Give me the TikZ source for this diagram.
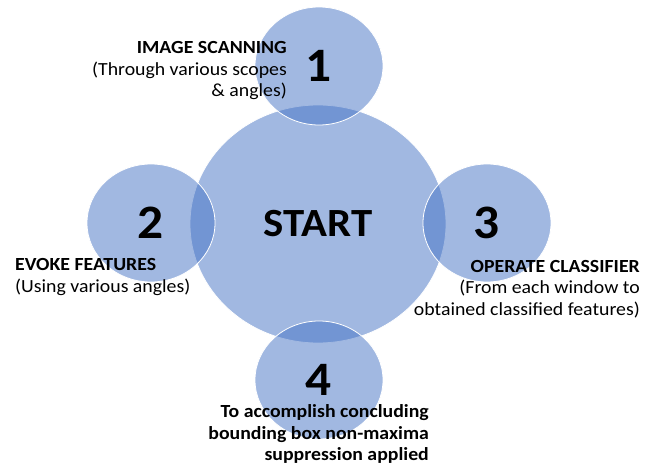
\documentclass[tikz,border=0pt]{standalone}
\usepackage{fontspec}
\setmainfont{Carlito}[FakeStretch=1.07]
\usetikzlibrary{shapes.geometric}
\definecolor{bubblue}{HTML}{4472C4}
\begin{document}
\begin{tikzpicture}[x=1pt, y=-1pt, every node/.style={inner sep=0pt},
    bub/.style={ellipse, draw=white, line width=.8pt, fill=bubblue, fill opacity=.5, text opacity=1,
      minimum width=128pt, minimum height=118pt, font=\fontsize{48}{48}\selectfont\bfseries},
    big/.style={bub, minimum width=256pt, minimum height=238pt, font=\fontsize{40}{40}\selectfont\bfseries},
    lab/.style={font=\fontsize{18.5}{21.5}\selectfont}]
  \useasboundingbox (0,0) rectangle (654,465);
  \node [big] (start) at (318,224) {START};
  \node [bub] (1) at (319,66) {1};
  \node [bub] (2) at (151,223) {2};
  \node [bub] (3) at (487,223) {3};
  \node [bub] (4) at (319,380) {4};
  \node [lab, anchor=east, align=right] (l1) at (287,71) {\textbf{IMAGE SCANNING}\\(Through various scopes\\\& angles)};
  \node [lab, anchor=west, align=left] (l2) at (15,277) {\textbf{EVOKE FEATURES}\\(Using various angles)};
  \node [lab, anchor=east, align=right] (l3) at (640,289) {\textbf{OPERATE CLASSIFIER}\\(From each window to\\obtained classified features)};
  \node [lab, anchor=east, align=right, font=\fontsize{18.5}{21.5}\selectfont\bfseries] (l4) at (429,434) {To accomplish concluding\\bounding box non-maxima\\suppression applied};
\end{tikzpicture}
\end{document}
